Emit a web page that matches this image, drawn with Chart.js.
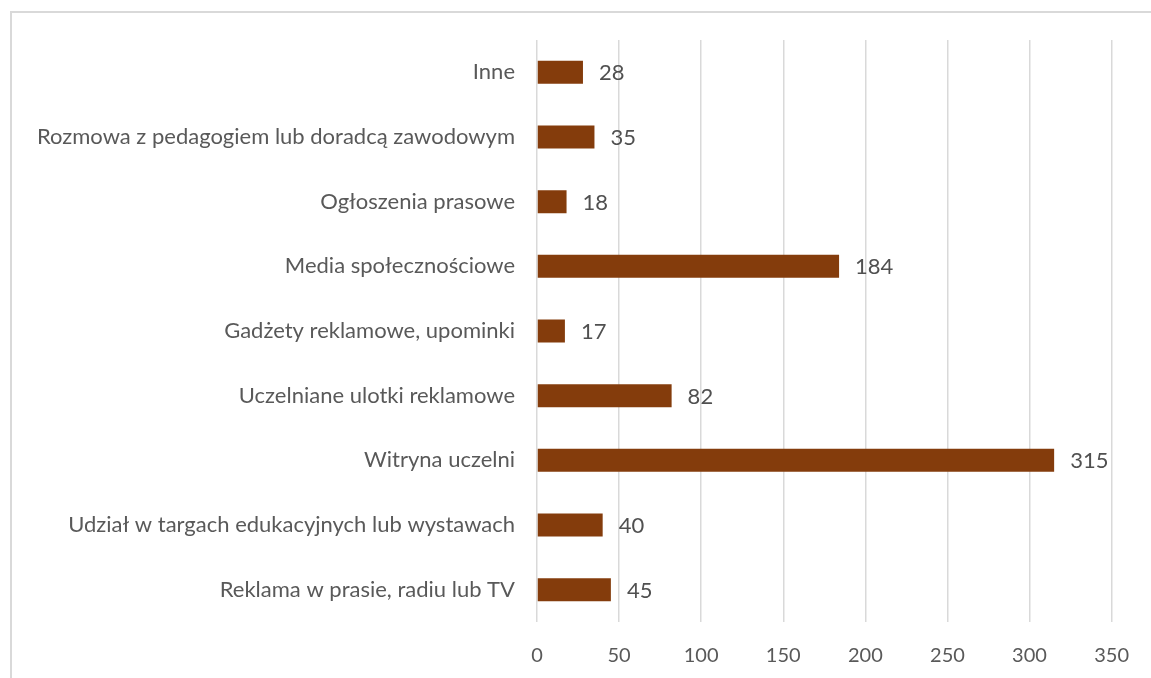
<!DOCTYPE html>
<html>
<head>
    <meta charset="utf-8">
    <title>Źródła informacji</title>
    <style>
        html, body { margin: 0; padding: 0; overflow: hidden; background: #fff; }
        #frame { position: absolute; left: 10px; top: 11px; width: 1200px; height: 720px; border: 2px solid #d9d9d9; }
        #chart { position: absolute; left: 0; top: 0; }
    </style>
</head>
<body>
    <div id="frame"></div>
    <canvas id="chart" width="1151" height="678"></canvas>

    <script src="https://cdn.jsdelivr.net/npm/chart.js"></script>
    <script>
        const categories = [
            'Inne',
            'Rozmowa z pedagogiem lub doradcą zawodowym',
            'Ogłoszenia prasowe',
            'Media społecznościowe',
            'Gadżety reklamowe, upominki',
            'Uczelniane ulotki reklamowe',
            'Witryna uczelni',
            'Udział w targach edukacyjnych lub wystawach',
            'Reklama w prasie, radiu lub TV'
        ];
        const counts = [28, 35, 18, 184, 17, 82, 315, 40, 45];
        const xTicks = [0, 50, 100, 150, 200, 250, 300, 350];

        const FONT = 'Lato, "Liberation Sans", sans-serif';

        // value labels to the right of each bar
        const barLabels = {
            id: 'barLabels',
            afterDatasetsDraw(chart) {
                const ctx = chart.ctx;
                ctx.save();
                ctx.font = '22px ' + FONT;
                ctx.fillStyle = '#505050';
                ctx.textAlign = 'left';
                ctx.textBaseline = 'middle';
                chart.getDatasetMeta(0).data.forEach((bar, i) => {
                    ctx.fillText(String(counts[i]), bar.x + 16, bar.y + 1);
                });
                ctx.restore();
            }
        };

        new Chart(document.getElementById('chart'), {
            type: 'bar',
            data: {
                labels: categories,
                datasets: [{
                    data: counts,
                    backgroundColor: '#843c0c',
                    borderWidth: 0,
                    barPercentage: 0.355,
                    categoryPercentage: 1
                }]
            },
            options: {
                indexAxis: 'y',
                responsive: false,
                animation: false,
                layout: { padding: { top: 40, right: 33, left: 0, bottom: 0 } },
                plugins: { legend: { display: false }, tooltip: { enabled: false } },
                scales: {
                    x: {
                        min: 0,
                        max: 350,
                        afterBuildTicks: scale => { scale.ticks = xTicks.map(v => ({ value: v })); },
                        afterFit: scale => { scale.height = 56; },
                        grid: { color: '#d9d9d9', lineWidth: 1.5, drawTicks: false },
                        border: { display: false },
                        ticks: { color: '#595959', font: { family: FONT, size: 20 }, padding: 22 }
                    },
                    y: {
                        afterFit: scale => { scale.width = 537; },
                        grid: { display: false },
                        border: { display: false },
                        ticks: { color: '#595959', font: { family: FONT, size: 22 }, padding: 14 }
                    }
                }
            },
            plugins: [barLabels]
        });
    </script>
</body>
</html>
